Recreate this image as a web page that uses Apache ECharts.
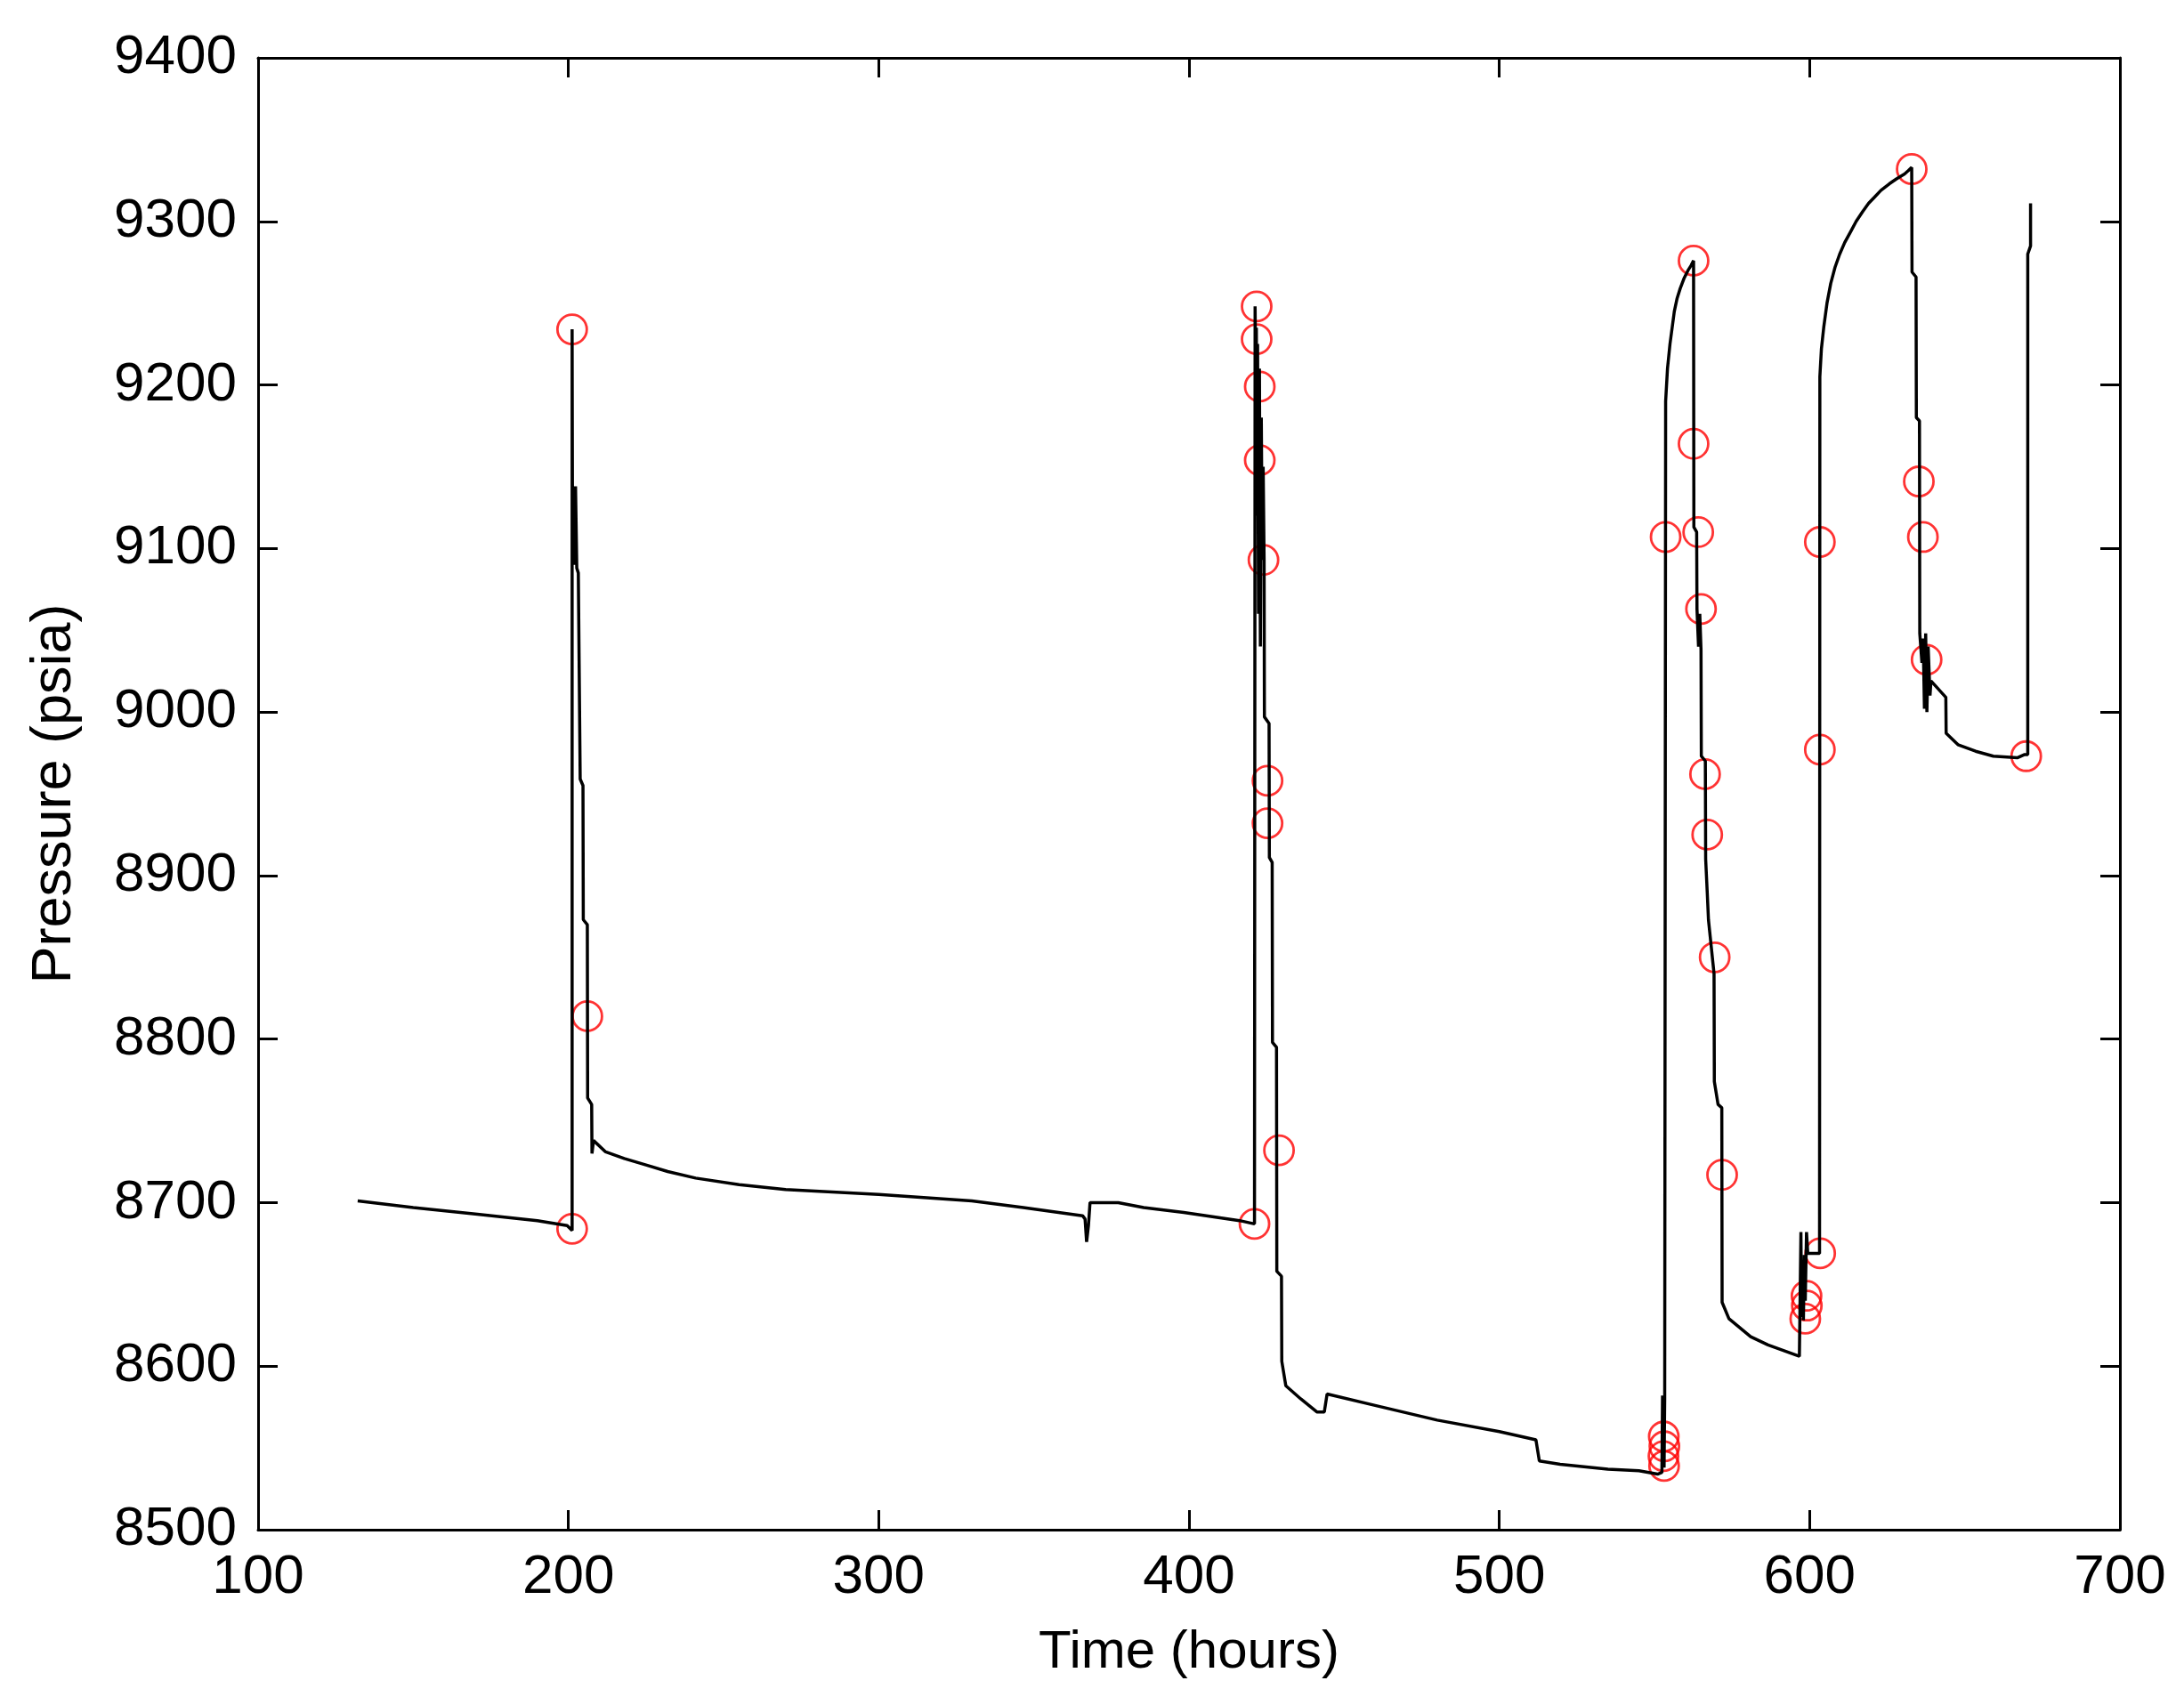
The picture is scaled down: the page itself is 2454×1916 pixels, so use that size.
<!DOCTYPE html>
<html>
<head>
<meta charset="utf-8">
<title>Pressure vs time</title>
<script src="https://cdn.jsdelivr.net/npm/echarts@6/dist/echarts.min.js"></script>
<style>
  html, body { margin: 0; padding: 0; background: #fff; }
  #chart { width: 2454px; height: 1916px; }
</style>
</head>
<body>
<div id="chart"></div>
<script>
// gauge trace (hours, psia)
var lineTime = [
  132.1, 150, 170, 190, 199.6, 201.2,
  201.2, 201.3, 201.8, 202.3, 202.7, 203.2, 203.7, 203.8, 204.7, 204.8, 206.1, 206.2, 207.5, 207.6,
  208.1, 212, 218, 225, 232, 241, 255, 270, 300, 330, 346.6, 365.7, 366.5, 367.0, 367.6, 368.1,
  377.2, 385.4, 398.3, 416.3, 421.1,
  421.3, 421.5, 421.7, 421.9, 422.1, 422.4, 422.7, 423.0, 423.3, 423.6, 423.9, 424.2,
  424.3, 425.8, 425.9, 426.8, 426.9, 428.2, 428.3, 429.8, 429.9, 431.2,
  436, 441.2, 443.6, 444.5, 460, 480, 500, 511.8, 512.9, 519.6, 535, 545, 551, 552.4,
  552.6, 552.8, 553.0, 553.1, 553.3, 553.6, 554.2, 555, 556.4, 557.3, 558.3, 559.5, 560.8, 561.8, 562.6,
  562.7, 563.6, 563.7, 564.2, 564.6, 565.0, 565.1, 566.4, 566.5, 567.0, 567.4, 569.2, 569.3,
  570.5, 571.7, 571.8, 574, 581, 586.6, 596.7,
  597.2, 597.4, 597.7, 598.0, 598.3, 598.6, 599.0, 599.4, 603.2,
  603.3, 603.8, 604.6, 605.6, 606.8, 608.2, 609.7, 611.3, 613.3, 615, 617.1, 619, 621, 623, 625.7, 628, 630.6, 631.8, 632.9,
  633.0, 634.3, 634.4, 635.4, 635.5, 636.2, 636.6, 637.0, 637.4, 637.8, 638.2, 638.8,
  639.1, 643.9, 644.0, 647.8, 653.5, 659.2, 666.9, 669.3, 670.3,
  670.3, 671.2, 671.2
];
var linePressure = [
  8701, 8697, 8693, 8689, 8686, 8683,
  9234, 9138, 9090, 9138, 9088, 9085, 9085, 8959, 8955, 8873, 8870, 8764, 8760, 8730,
  8738, 8731, 8727, 8723, 8719, 8715, 8711, 8708, 8705, 8701, 8697, 8692, 8690, 8676, 8686, 8700,
  8700, 8697, 8694, 8689, 8687,
  9248, 9200, 9235, 9120, 9225, 9060, 9210, 9040, 9180, 9093, 9150, 9093,
  8997, 8993, 8911, 8908, 8798, 8795, 8658, 8655, 8603, 8588,
  8580, 8572, 8572, 8583, 8576, 8567, 8560, 8555, 8542, 8540, 8537, 8536, 8534, 8535,
  8582, 8540, 8575, 8538, 8580, 9190, 9210, 9225, 9245, 9253, 9259, 9265, 9270, 9273, 9276,
  9113, 9110, 9063, 9040, 9060, 9038, 8973, 8970, 8910, 8890, 8873, 8840, 8774,
  8760, 8758, 8639, 8629, 8618, 8613, 8606,
  8682, 8630, 8660, 8628, 8668, 8640, 8682, 8669, 8669,
  9205, 9222, 9236, 9250, 9262, 9272, 9280, 9287, 9294, 9300, 9306, 9311, 9315, 9319, 9323, 9326, 9329, 9331, 9333,
  9269, 9266, 9180, 9178, 9048, 9030, 9045, 9002, 9048, 9000, 9040, 9010,
  9019, 9009, 8987, 8980, 8976, 8973, 8972, 8974, 8974,
  9280, 9285, 9311
];

// picked points (red circles)
var markTime = [
  201.2, 206.1, 201.2,
  421.1, 421.8, 421.8, 422.8, 422.8, 424.0, 425.3, 425.3, 429.0,
  553.0, 553.2, 552.9, 553.1, 553.6, 562.6, 562.6, 564.1, 565.0, 566.3, 567.0, 569.4, 571.8,
  599.0, 599.1, 598.6, 603.4, 603.3, 603.3,
  632.9, 635.2, 636.5, 637.7, 669.8
];
var markPressure = [
  9234, 8814, 8684,
  8687, 9248, 9228, 9199, 9154, 9093, 8958, 8932, 8732,
  8557, 8551, 8545, 8539, 9107, 9276, 9164, 9110, 9063, 8962, 8925, 8850, 8717,
  8643, 8637, 8629, 8669, 9104, 8977,
  9332, 9141, 9107, 9032, 8973
];

var xTicks = [100, 700, 100]   // min, max, step
var yTicks = [8500, 9400, 100]

var trace = lineTime.map(function (t, i) { return [t, linePressure[i]] })
var marks = markTime.map(function (t, i) { return [t, markPressure[i]] })

var font = 'Liberation Sans, Arial, Helvetica, sans-serif'
var black = '#000'

function boxAxis(extra) {
  var ax = {
    type: 'value',
    axisLine: { show: true, onZero: false, lineStyle: { color: black, width: 3 } },
    axisTick: { show: true, inside: true, length: 22, lineStyle: { color: black, width: 3 } },
    splitLine: { show: false },
    axisLabel: { show: false }
  }
  return Object.assign(ax, extra)
}

var chart = echarts.init(document.getElementById('chart'))
var option = {
  backgroundColor: '#fff',
  animation: false,
  grid: { left: 290, right: 72, top: 65, bottom: 197, containLabel: false, outerBoundsMode: 'none' },
  xAxis: [
    boxAxis({
      min: xTicks[0], max: xTicks[1], interval: xTicks[2],
      position: 'bottom',
      name: 'Time (hours)',
      nameLocation: 'middle',
      nameGap: 108,
      nameTextStyle: { fontFamily: font, fontSize: 60, color: black },
      axisLabel: { show: true, margin: 23, fontFamily: font, fontSize: 62, color: black }
    }),
    boxAxis({ min: xTicks[0], max: xTicks[1], interval: xTicks[2], position: 'top' })
  ],
  yAxis: [
    boxAxis({
      min: yTicks[0], max: yTicks[1], interval: yTicks[2],
      position: 'left',
      name: 'Pressure (psia)',
      nameLocation: 'middle',
      nameGap: 197,
      nameTextStyle: { fontFamily: font, fontSize: 63, color: black },
      axisLabel: {
        show: true, margin: 24, fontFamily: font, fontSize: 62, color: black,
        formatter: function (v) { return String(v) }
      }
    }),
    boxAxis({ min: yTicks[0], max: yTicks[1], interval: yTicks[2], position: 'right' })
  ],
  series: [
    {
      name: 'pressure',
      type: 'line',
      data: trace,
      showSymbol: false,
      symbol: 'none',
      lineStyle: { color: black, width: 3.5 },
      silent: true
    },
    {
      name: 'points',
      type: 'scatter',
      data: marks,
      symbol: 'circle',
      symbolSize: 33,
      itemStyle: { color: 'rgba(0,0,0,0)', borderColor: '#ff0000', borderWidth: 2.8 },
      silent: true
    }
  ]
}
chart.setOption(option)
</script>
</body>
</html>
